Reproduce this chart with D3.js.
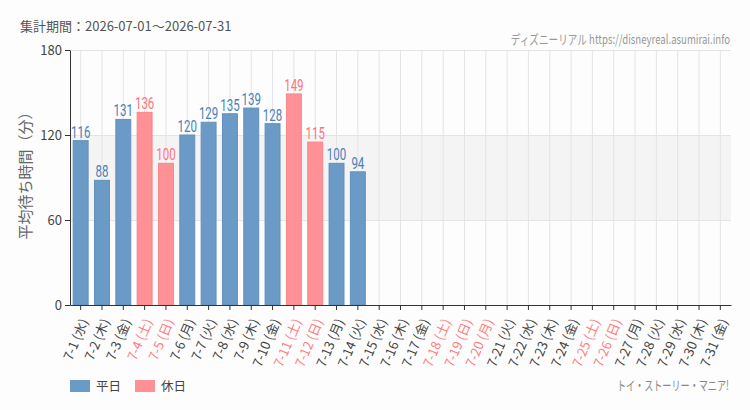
<!DOCTYPE html>
<html>
<head>
<meta charset="utf-8">
<script src="https://cdn.jsdelivr.net/npm/d3@7"></script>
<style>
  body { margin: 0; background: #fcfdfc; }
  svg { display: block; }
</style>
</head>
<body>
<svg width="750" height="410"></svg>
<script>
// data
var dates = ["7-1","7-2","7-3","7-4","7-5","7-6","7-7","7-8","7-9","7-10","7-11","7-12","7-13","7-14","7-15","7-16",
  "7-17","7-18","7-19","7-20","7-21","7-22","7-23","7-24","7-25","7-26","7-27","7-28","7-29","7-30","7-31"];
var weekdays = ["水","木","金","土","日","月","火","水","木","金","土","日","月","火","水","木",
  "金","土","日","月","火","水","木","金","土","日","月","火","水","木","金"];
// 1 = 休日, 0 = 平日
var holiday = [0,0,0,1,1,0,0,0,0,0,1,1,0,0,0,0,0,1,1,1,0,0,0,0,1,1,0,0,0,0,0];
var waits = [116,88,131,136,100,120,129,135,139,128,149,115,100,94,null,null,
  null,null,null,null,null,null,null,null,null,null,null,null,null,null,null];
var yTicks = [0, 60, 120, 180];
var legendItems = ["平日", "休日"];

var svg = d3.select("svg");
var mLeft = 70, mRight = 731, mTop = 50, mBottom = 305;

var blue = "#6b9ac6", pink = "#ff9095";
var blueText = "#4a80b8", pinkText = "#ff7479";
var font = "'Noto Sans CJK JP', 'Noto Sans', sans-serif";

// condensed text: draw at x,y then squeeze horizontally
function narrowText(sel, x, y, k) {
  return sel.attr("transform", "translate(" + x + "," + y + ") scale(" + k + ",1)");
}

var x = d3.scaleBand().domain(dates).range([mLeft, mRight]).paddingInner(0.3).paddingOuter(0.15);
var xc = function (d) { return x(d) + x.bandwidth() / 2; };
var y = d3.scaleLinear().domain([0, 180]).range([mBottom, mTop]);

// shaded band 60-120
svg.append("rect")
  .attr("x", mLeft).attr("width", mRight - mLeft)
  .attr("y", y(120)).attr("height", y(60) - y(120))
  .attr("fill", "#f3f4f3");

// grid
svg.append("g").selectAll("line")
  .data(dates).enter().append("line")
  .attr("x1", xc).attr("x2", xc)
  .attr("y1", mTop).attr("y2", mBottom)
  .attr("stroke", "#e4e4e4").attr("stroke-width", 1);

svg.append("g").selectAll("line")
  .data(yTicks.slice(1)).enter().append("line")
  .attr("x1", mLeft).attr("x2", mRight)
  .attr("y1", function (d) { return y(d) + 0.5; }).attr("y2", function (d) { return y(d) + 0.5; })
  .attr("stroke", "#e4e4e4");

// bars
var rows = dates.map(function (d, i) { return { date: d, v: waits[i], h: holiday[i] }; })
  .filter(function (d) { return d.v != null; });

svg.append("g").selectAll("rect")
  .data(rows).enter().append("rect")
  .attr("x", function (d) { return x(d.date); })
  .attr("width", x.bandwidth())
  .attr("y", function (d) { return y(d.v); })
  .attr("height", function (d) { return mBottom - y(d.v); })
  .attr("fill", function (d) { return d.h ? pink : blue; })
  .attr("stroke", function (d) { return d.h ? "#f5868b" : "#6290bd"; })
  .attr("stroke-width", 1);

svg.append("g").selectAll("text")
  .data(rows).enter().append("text")
  .each(function (d) { narrowText(d3.select(this), xc(d.date), y(d.v) - 3, 0.72); })
  .attr("text-anchor", "middle")
  .style("font-family", "Roboto, sans-serif")
  .style("font-size", "16px")
  .attr("fill", function (d) { return d.h ? pinkText : blueText; })
  .text(function (d) { return d.v; });

// axes
var yAxis = svg.append("g")
  .attr("transform", "translate(" + mLeft + ",0)")
  .call(d3.axisLeft(y).tickValues(yTicks).tickSize(5).tickSizeOuter(0));
yAxis.selectAll("text").style("font-family", font).style("font-size", "13px").attr("fill", "#444");

var xAxis = svg.append("g")
  .attr("transform", "translate(0," + mBottom + ")")
  .call(d3.axisBottom(x).tickSize(5).tickSizeOuter(0).tickFormat(function (d, i) { return d + " (" + weekdays[i] + ")"; }));
xAxis.selectAll("text")
  .style("font-family", font).style("font-size", "13px")
  .attr("fill", function (d, i) { return holiday[i] ? "#ff7d82" : "#444"; })
  .attr("text-anchor", "end")
  .attr("transform", "translate(5,12) rotate(-67)")
  .attr("x", 0).attr("y", 0).attr("dy", "0.35em").attr("dx", "-0.2em");
svg.selectAll(".domain").attr("stroke", "#333");
svg.selectAll(".tick line").attr("stroke", "#333");

// titles
svg.append("text")
  .attr("x", 20).attr("y", 31)
  .style("font-family", font).style("font-size", "13px")
  .attr("fill", "#555")
  .text("集計期間：2026-07-01～2026-07-31");

narrowText(svg.append("text"), 730, 44, 0.74)
  .attr("text-anchor", "end")
  .style("font-family", font).style("font-size", "13px")
  .attr("fill", "#999")
  .text("ディズニーリアル https://disneyreal.asumirai.info");

svg.append("text")
  .attr("transform", "translate(31,172) rotate(-90)")
  .attr("text-anchor", "middle")
  .style("font-family", font).style("font-size", "15px")
  .attr("fill", "#666")
  .text("平均待ち時間（分）");

// legend
var legend = svg.append("g").selectAll("g")
  .data(legendItems).enter().append("g")
  .attr("transform", function (d, i) { return "translate(" + (70 + i * 65) + ",380)"; });
legend.append("rect")
  .attr("width", 20).attr("height", 12)
  .attr("fill", function (d, i) { return i ? pink : blue; });
legend.append("text")
  .attr("x", 26).attr("y", 11)
  .style("font-family", font).style("font-size", "12.5px")
  .attr("fill", "#444")
  .text(function (d) { return d; });

narrowText(svg.append("text"), 729, 390, 0.7)
  .attr("text-anchor", "end")
  .style("font-family", font).style("font-size", "13px")
  .attr("fill", "#888")
  .text("トイ・ストーリー・マニア!");
</script>
</body>
</html>
